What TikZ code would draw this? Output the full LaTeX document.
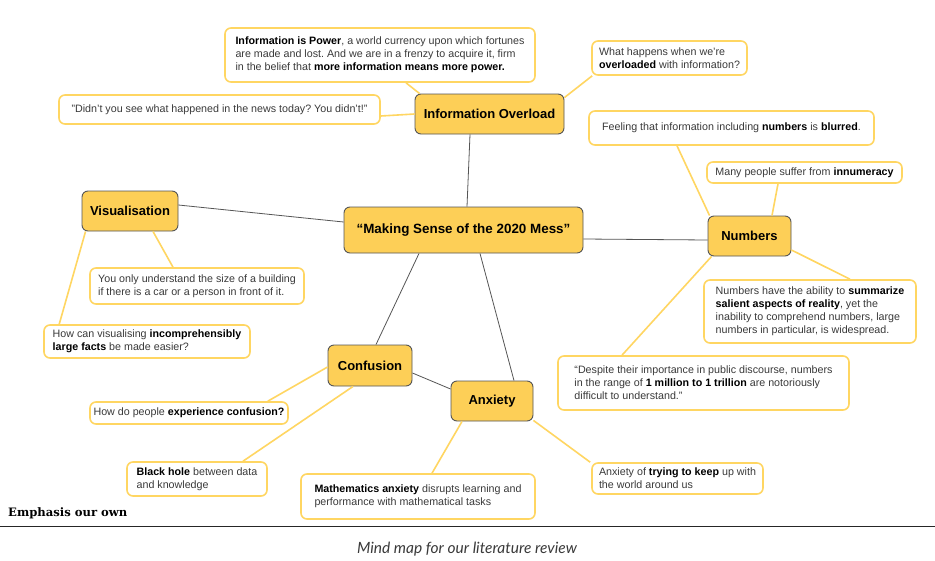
\documentclass[tikz,border=0pt]{standalone}
\usepackage{fontspec}
\setmainfont{Liberation Sans}
\newfontfamily\emphfont{DejaVu Serif}
\newfontfamily\capfont{Lato}
\usetikzlibrary{calc}
\frenchspacing
\definecolor{myyel}{HTML}{FDCF57}
\definecolor{bordyel}{HTML}{FFD662}
\definecolor{edgegray}{HTML}{555555}
\definecolor{txt}{HTML}{3A3A3A}
\newcommand{\bt}[1]{{\bfseries\color{black}#1}}
\tikzset{
  mainbox/.style={draw=edgegray, fill=myyel, rounded corners=6pt, line width=0.9pt,
    font=\bfseries\fontsize{13}{15}\selectfont, text=black, inner sep=0pt},
  subbox/.style={draw=bordyel, fill=white, rounded corners=6pt, line width=1.6pt,
    font=\fontsize{10.7}{13}\selectfont, text=txt, inner sep=0pt, align=left},
  hubline/.style={draw=edgegray, line width=0.8pt},
  leafline/.style={draw=bordyel, line width=1.6pt},
}
\begin{document}
\begin{tikzpicture}[x=1pt,y=-1pt]
\fill[white] (0,0) rectangle (935,560);
\useasboundingbox (0,0) rectangle (935,560);

% main nodes
\node[mainbox, minimum width=239pt, minimum height=46pt] (c) at (463.5,230) {\fontsize{13.4}{16}\selectfont “Making Sense of the 2020 Mess”};
\node[mainbox, minimum width=149pt, minimum height=40pt] (io) at (489.5,114) {Information Overload};
\node[mainbox, minimum width=96pt, minimum height=40pt] (vis) at (130,211) {Visualisation};
\node[mainbox, minimum width=83pt, minimum height=40pt] (num) at (749.5,236) {Numbers};
\node[mainbox, minimum width=84pt, minimum height=41pt] (conf) at (370,365.5) {Confusion};
\node[mainbox, minimum width=82pt, minimum height=40pt] (anx) at (492,401) {Anxiety};

% sub boxes
\node[subbox, minimum width=310pt, minimum height=54pt] (pow) at (380,55)
  {\bt{Information is Power}, a world currency upon which fortunes\\are made and lost. And we are in a frenzy to acquire it, firm\\in the belief that \bt{more information means more power.}};
\node[subbox, minimum width=155pt, minimum height=34pt] (what) at (669.5,58)
  {What happens when we’re\\\bt{overloaded} with information?};
\node[subbox, minimum width=321pt, minimum height=29pt] (didnt) at (219.5,109.5)
  {"Didn't you see what happened in the news today? You didn't!"};
\node[subbox, minimum width=285pt, minimum height=34pt] (feel) at (731.5,128)
  {Feeling that information including \bt{numbers} is \bt{blurred}.};
\node[subbox, minimum width=195pt, minimum height=21pt] (many) at (804.5,172.5)
  {Many people suffer from \bt{innumeracy}};
\node[subbox, minimum width=214pt, minimum height=36pt] (you) at (197,286)
  {You only understand the size of a building\\if there is a car or a person in front of it.};
\node[subbox, minimum width=212pt, minimum height=63pt] (nh) at (810,311.5)
  {Numbers have the ability to \bt{summarize}\\\bt{salient aspects of reality}, yet the\\inability to comprehend numbers, large\\numbers in particular, is widespread.};
\node[subbox, minimum width=206pt, minimum height=33pt] (howcan) at (147,341.5)
  {How can visualising \bt{incomprehensibly}\\\bt{large facts} be made easier?};
\node[subbox, minimum width=291pt, minimum height=54pt] (desp) at (703.5,383)
  {“Despite their importance in public discourse, numbers\\in the range of \bt{1 million to 1 trillion} are notoriously\\difficult to understand.”};
\node[subbox, minimum width=198pt, minimum height=22pt] (howdo) at (189,413)
  {How do people \bt{experience confusion?}};
\node[subbox, minimum width=140pt, minimum height=34pt] (black) at (197,479)
  {\bt{Black hole} between data\\and knowledge};
\node[subbox, minimum width=234pt, minimum height=45pt] (math) at (418,496.5)
  {\bt{Mathematics anxiety} disrupts learning and\\performance with mathematical tasks};
\node[subbox, minimum width=171pt, minimum height=31pt] (try) at (677.5,478.5)
  {Anxiety of \bt{trying to keep} up with\\the world around us};

% hub connectors
\draw[hubline] ($(c.north)+(3.5,0)$) -- ($(io.south)+(-19.5,0)$);
\draw[hubline] ($(c.west)+(0,-8)$) -- ($(vis.east)+(0,-6)$);
\draw[hubline] ($(c.east)+(0,9)$) -- ($(num.west)+(0,4)$);
\draw[hubline] ($(c.south)+(-44.5,0)$) -- ($(conf.north)+(6,0)$);
\draw[hubline] ($(c.south)+(16.5,0)$) -- ($(anx.north)+(22,0)$);
\draw[hubline] ($(conf.east)+(0,7.5)$) -- ($(anx.west)+(0,-12)$);

% leaf connectors
\draw[leafline] ($(io.north west)+(5,0)$) -- ($(pow.south)+(26,0)$);
\draw[leafline] (io.west) -- ($(didnt.east)+(0,6.5)$);
\draw[leafline] ($(io.north east)+(0,4)$) -- ($(what.south west)+(1,0)$);
\draw[leafline] ($(num.north west)+(2,0)$) -- ($(feel.south)+(-54.5,0)$);
\draw[leafline] ($(num.north)+(22.5,0)$) -- ($(many.south)+(-26.5,0)$);
\draw[leafline] ($(num.east)+(0,14)$) -- ($(nh.north)+(40,0)$);
\draw[leafline] ($(num.south west)+(4,0)$) -- ($(desp.north)+(-81.5,0)$);
\draw[leafline] ($(vis.south)+(23,0)$) -- ($(you.north)+(-24,0)$);
\draw[leafline] ($(vis.south west)+(4,0)$) -- ($(howcan.north west)+(16,0)$);
\draw[leafline] ($(conf.west)+(0,1.5)$) -- ($(howdo.north east)+(-21,0)$);
\draw[leafline] ($(conf.south)+(-17,0)$) -- ($(black.north)+(46,0)$);
\draw[leafline] ($(anx.south)+(-30,0)$) -- ($(math.north)+(14,0)$);
\draw[leafline] ($(anx.south east)+(0,-1)$) -- ($(try.north west)+(-1,0)$);

% footer
\node[anchor=base west, inner sep=0pt, font=\emphfont\bfseries\fontsize{11.6}{13}\selectfont] (emph) at (8,516) {Emphasis our own};
\coordinate (rl) at (0,526);
\coordinate (rr) at (935,526);
\draw[line width=1pt, black!85] (rl) -- (rr);
\node[inner sep=0pt, font=\capfont\itshape\fontsize{15.5}{18}\selectfont, text=txt] (cap) at (467,549) {Mind map for our literature review};
\end{tikzpicture}
\end{document}
